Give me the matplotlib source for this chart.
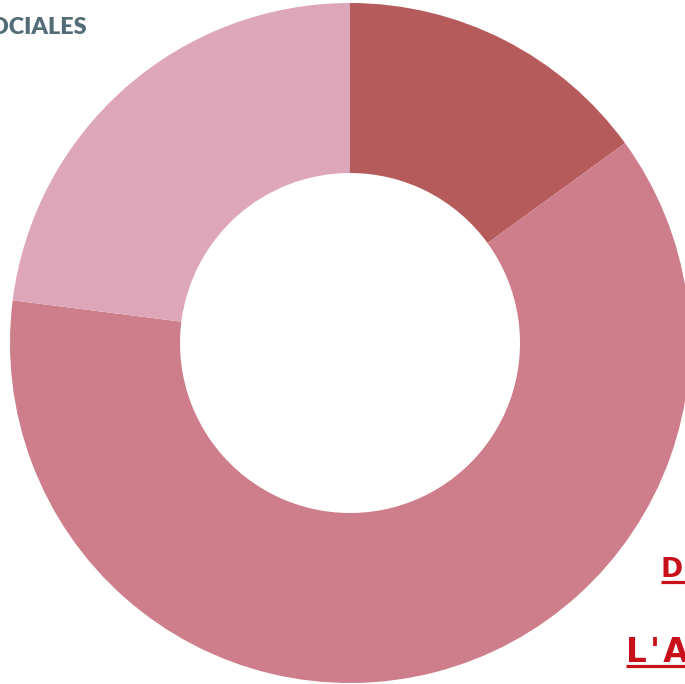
import matplotlib
matplotlib.use("Agg")
import matplotlib.pyplot as plt
from matplotlib.lines import Line2D

# Data
categories = ["Dark segment", "Large segment", "Light segment"]
values = [15, 62, 23]
colors = ["#b65b5b", "#ce7d8a", "#dea6b9"]
label_top = "SOCIALES"
label_d = "DÉPENSES"
label_la = "L'ACTIVITÉ"

W, H = 685, 684
fig = plt.figure(figsize=(W / 100, H / 100), dpi=100)
ax = fig.add_axes([0, 0, 1, 1])

ax.pie(values, colors=colors, startangle=90, counterclock=False,
       radius=340, center=(350, H - 343),
       wedgeprops=dict(width=170, edgecolor="none", linewidth=0))
ax.set_xlim(0, W)
ax.set_ylim(0, H)
ax.set_aspect("auto")
ax.axis("off")

ax.text(87, H - 34, label_top, ha="right", va="baseline",
        fontsize=16.8, fontweight="heavy", family=["Lato", "DejaVu Sans"],
        color="#536d78")

def spaced(s):
    return "\u200a".join(s)

red = "#c8101a"
t1 = ax.text(661, H - 577, spaced(label_d), ha="left", va="baseline",
             fontsize=19.2, fontweight="bold", family=["DejaVu Sans"],
             color=red)
t2 = ax.text(626, H - 662, spaced(label_la), ha="left", va="baseline",
             fontsize=23.5, fontweight="bold", family=["DejaVu Sans"],
             color=red)

fig.canvas.draw()
r = fig.canvas.get_renderer()
for t, base, off in [(t1, 577, 5), (t2, 662, 4)]:
    bb = t.get_window_extent(r)
    y = H - base - off
    fig.add_artist(Line2D([bb.x0, bb.x1], [y, y], transform=None,
                          color=red, linewidth=2.3, solid_capstyle="butt"))

fig.savefig("out.png", dpi=100)
